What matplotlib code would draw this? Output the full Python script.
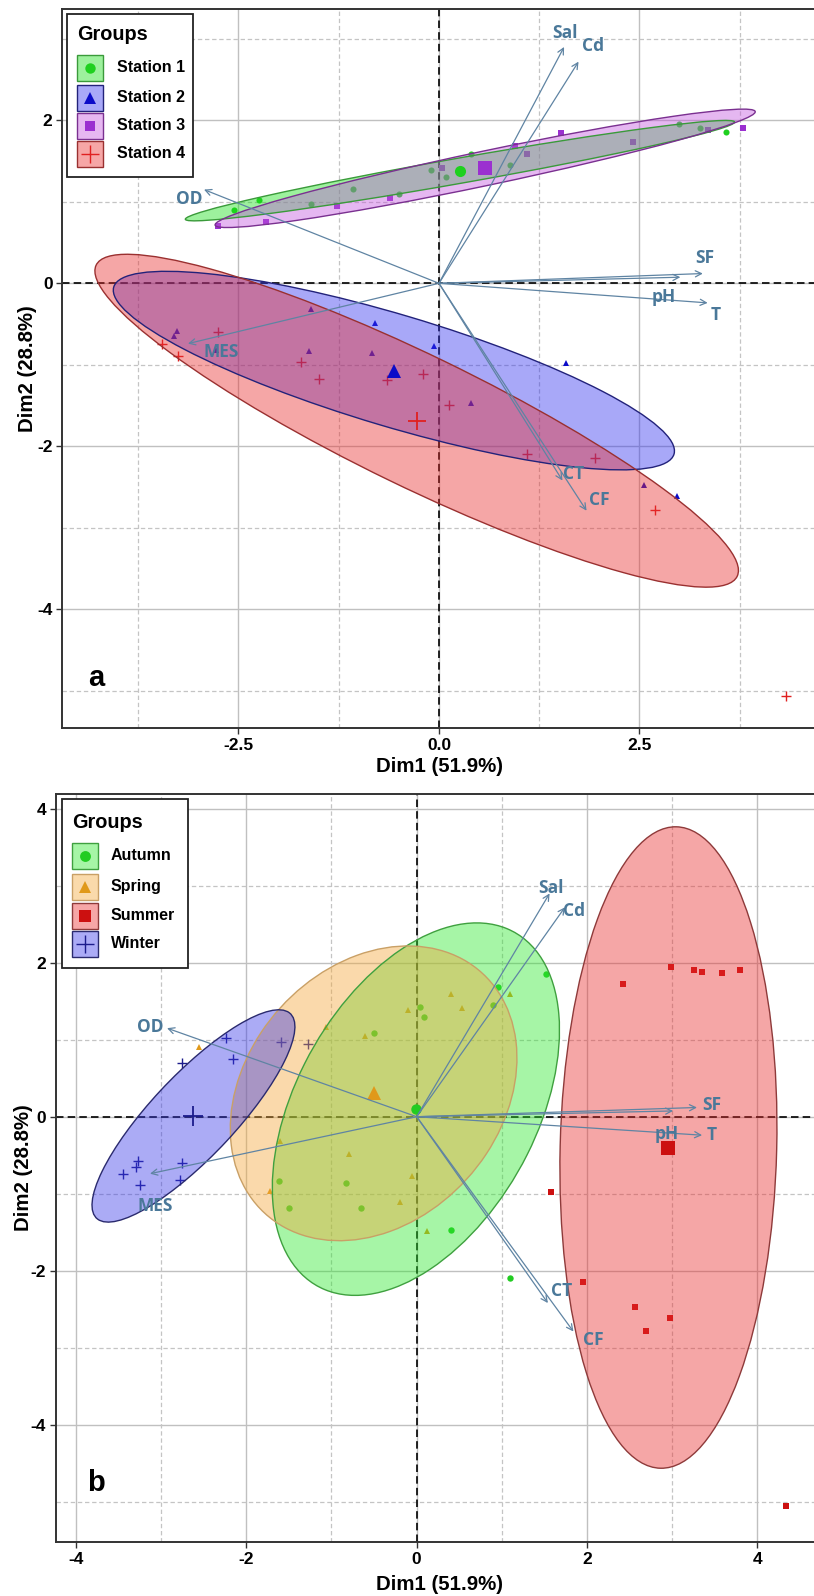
import numpy as np
import matplotlib
matplotlib.use("Agg")
import matplotlib.pyplot as plt
from matplotlib.patches import Ellipse, Rectangle
from matplotlib.colors import to_rgb

# ---------------------------------------------------------------------------
# PCA scores of the 48 samples (Dim1, Dim2) with their station and season
# ---------------------------------------------------------------------------
dim1 = [
    -2.56, -2.24, -1.59, -1.07, -0.50, -0.10, 0.09, 0.40, 0.89, 2.99, 3.25, 3.58,      # Station 1
    -3.27, -3.30, -2.78, -1.60, -1.62, -0.80, -0.83, -0.06, 0.40, 1.58, 2.56, 2.97,    # Station 2
    -2.75, -2.16, -1.27, -0.61, 0.04, 0.53, 0.95, 1.10, 1.52, 2.42, 3.35, 3.79,        # Station 3
    -3.45, -3.25, -2.76, -1.72, -1.50, -0.65, -0.20, 0.12, 1.10, 1.95, 2.69, 4.33,     # Station 4
]
dim2 = [
    0.90, 1.02, 0.97, 1.16, 1.09, 1.39, 1.30, 1.59, 1.45, 1.95, 1.91, 1.86,
    -0.58, -0.65, -0.82, -0.32, -0.83, -0.49, -0.86, -0.77, -1.47, -0.98, -2.47, -2.61,
    0.70, 0.75, 0.95, 1.05, 1.42, 1.41, 1.69, 1.59, 1.85, 1.73, 1.88, 1.91,
    -0.74, -0.89, -0.60, -0.96, -1.18, -1.19, -1.11, -1.49, -2.09, -2.14, -2.78, -5.06,
]
station = [
    "Station 1", "Station 1", "Station 1", "Station 1", "Station 1", "Station 1",
    "Station 1", "Station 1", "Station 1", "Station 1", "Station 1", "Station 1",
    "Station 2", "Station 2", "Station 2", "Station 2", "Station 2", "Station 2",
    "Station 2", "Station 2", "Station 2", "Station 2", "Station 2", "Station 2",
    "Station 3", "Station 3", "Station 3", "Station 3", "Station 3", "Station 3",
    "Station 3", "Station 3", "Station 3", "Station 3", "Station 3", "Station 3",
    "Station 4", "Station 4", "Station 4", "Station 4", "Station 4", "Station 4",
    "Station 4", "Station 4", "Station 4", "Station 4", "Station 4", "Station 4",
]
season = [
    "Spring", "Winter", "Winter", "Spring", "Autumn", "Spring",
    "Autumn", "Spring", "Autumn", "Summer", "Summer", "Summer",
    "Winter", "Winter", "Winter", "Spring", "Autumn", "Spring",
    "Autumn", "Spring", "Autumn", "Summer", "Summer", "Summer",
    "Winter", "Winter", "Winter", "Spring", "Autumn", "Spring",
    "Autumn", "Spring", "Autumn", "Summer", "Summer", "Summer",
    "Winter", "Winter", "Winter", "Spring", "Autumn", "Autumn",
    "Spring", "Spring", "Autumn", "Summer", "Summer", "Summer",
]

station_names = ["Station 1", "Station 2", "Station 3", "Station 4"]
season_names = ["Autumn", "Spring", "Summer", "Winter"]

# variable loadings (scaled to the score space)
variables = ["OD", "MES", "Sal", "Cd", "SF", "pH", "T", "CT", "CF"]
var_dim1 = [-2.93, -3.13, 1.56, 1.74, 3.29, 3.01, 3.35, 1.54, 1.84]
var_dim2 = [1.15, -0.74, 2.90, 2.72, 0.12, 0.075, -0.24, -2.42, -2.79]

x_title = "Dim1 (51.9%)"
y_title = "Dim2 (28.8%)"
legend_title = "Groups"

# ---------------------------------------------------------------------------
# styling
# ---------------------------------------------------------------------------
W, H, DPI = 814, 1596, 100
FONT = "Liberation Sans"
LABEL_FONT = "Open Sans"
ELLIPSE_R = 1.64          # ellipse radius in standard deviations
FILL_ALPHA = 0.42
ARROW_COLOR = "#5F84A3"
VAR_TEXT_COLOR = "#4A7899"

station_style = {
    "Station 1": dict(marker="o", color="#1FD01F", ms=4.4, big=8.0, fill="#16DE16", edge="#3A9A3A", mew=0),
    "Station 2": dict(marker="^", color="#0B0BC8", ms=4.8, big=10.5, fill="#3030EF", edge="#22227A", mew=0),
    "Station 3": dict(marker="s", color="#9B30D0", ms=4.2, big=9.5, fill="#C354DE", edge="#7A3090", mew=0),
    "Station 4": dict(marker="+", color="#E02020", ms=7.0, big=13.0, fill="#E92C2C", edge="#9A3030", mew=1.0),
}
season_style = {
    "Autumn": dict(marker="o", color="#22CC22", ms=4.6, big=7.5, fill="#2CE82C", edge="#3FA03F", mew=0),
    "Spring": dict(marker="^", color="#E0991A", ms=5.0, big=10.5, fill="#F4A637", edge="#C9A066", mew=0),
    "Summer": dict(marker="s", color="#CC1010", ms=4.8, big=9.5, fill="#E92C2C", edge="#8E3A3A", mew=0),
    "Winter": dict(marker="+", color="#1C1C8C", ms=7.5, big=14.0, fill="#3737E9", edge="#2A2A6E", mew=1.0),
}

# label offsets from arrow tips, screen pixels (dx right, dy down)
label_offsets_a = {"OD": (-15, 9), "MES": (33, 8), "Sal": (1, -14), "Cd": (15, -16),
                   "SF": (2, -16), "pH": (-17, 20), "T": (8, 12), "CT": (11, -7), "CF": (13, -11)}
label_offsets_b = {"OD": (-17, -1), "MES": (5, 32), "Sal": (1, -5), "Cd": (9, 4),
                   "SF": (15, -2), "pH": (-6, 23), "T": (10, 0), "CT": (14, -12), "CF": (20, 8)}


def blend(color, alpha):
    r, g, b = to_rgb(color)
    return (1 - alpha + alpha * r, 1 - alpha + alpha * g, 1 - alpha + alpha * b)


fig = plt.figure(figsize=(W / DPI, H / DPI), dpi=DPI)


def rect(left, top, right, bottom):
    return [left / W, 1 - bottom / H, (right - left) / W, (bottom - top) / H]


x = np.array(dim1)
y = np.array(dim2)


def draw_panel(ax, groups, names, styles, xlim, ylim, xmajor, xminor, ymajor, yminor,
               xticklabels, offsets):
    ax.set_xlim(*xlim)
    ax.set_ylim(*ylim)
    ax.set_facecolor("white")
    for v in xmajor:
        ax.axvline(v, color="#C0C0C0", lw=1.0, zorder=0)
    for v in ymajor:
        ax.axhline(v, color="#C0C0C0", lw=1.0, zorder=0)
    for v in xminor:
        ax.axvline(v, color="#C4C4C4", lw=0.9, ls=(0, (3.5, 2.2)), zorder=0)
    for v in yminor:
        ax.axhline(v, color="#C4C4C4", lw=0.9, ls=(0, (3.5, 2.2)), zorder=0)
    ax.axhline(0, color="black", lw=1.2, ls=(0, (4.5, 2.5)), zorder=1)
    ax.axvline(0, color="black", lw=1.2, ls=(0, (4.5, 2.5)), zorder=1)

    groups = np.array(groups)
    # individual points
    for name in names:
        st = styles[name]
        m = groups == name
        ax.plot(x[m], y[m], ls="none", marker=st["marker"], ms=st["ms"], color=st["color"],
                mew=st["mew"], zorder=2)
    # concentration ellipses from each group's mean and covariance
    for name in names:
        st = styles[name]
        m = groups == name
        gx, gy = x[m], y[m]
        vals, vecs = np.linalg.eigh(np.cov(gx, gy))
        order = vals.argsort()[::-1]
        vals, vecs = vals[order], vecs[:, order]
        angle = np.degrees(np.arctan2(vecs[1, 0], vecs[0, 0]))
        w_, h_ = 2 * ELLIPSE_R * np.sqrt(vals[0]), 2 * ELLIPSE_R * np.sqrt(vals[1])
        ax.add_patch(Ellipse((gx.mean(), gy.mean()), w_, h_, angle=angle,
                             facecolor=st["fill"], alpha=FILL_ALPHA, edgecolor="none", zorder=3))
        ax.add_patch(Ellipse((gx.mean(), gy.mean()), w_, h_, angle=angle,
                             facecolor="none", edgecolor=st["edge"], lw=1.0, zorder=3.1))
    # group means
    for name in names:
        st = styles[name]
        m = groups == name
        ax.plot([x[m].mean()], [y[m].mean()], ls="none", marker=st["marker"], ms=st["big"],
                color=st["color"], mew=st["mew"] * 1.3, zorder=4)

    # variable arrows
    for name, vx, vy in zip(variables, var_dim1, var_dim2):
        ax.annotate("", xy=(vx, vy), xytext=(0, 0),
                    arrowprops=dict(arrowstyle="->", color=ARROW_COLOR, lw=0.9,
                                    shrinkA=0, shrinkB=0, mutation_scale=11),
                    zorder=5)
        dx, dy = offsets[name]
        ax.annotate(name, xy=(vx, vy), xytext=(dx, -dy), textcoords="offset pixels",
                    ha="center", va="center", fontsize=12.5, fontweight="bold",
                    family=LABEL_FONT, color=VAR_TEXT_COLOR, zorder=6)

    ax.set_xticks(xmajor)
    ax.set_xticklabels(xticklabels)
    ax.set_yticks(ymajor)
    ax.set_yticklabels([str(v) for v in ymajor])
    ax.tick_params(direction="out", length=4.5, width=1.0, color="#333333",
                   labelsize=12.5, pad=2.5)
    for lab in ax.get_xticklabels() + ax.get_yticklabels():
        lab.set_fontweight("bold")
        lab.set_family(FONT)
    for sp in ax.spines.values():
        sp.set_color("#333333")
        sp.set_linewidth(1.4)


# panel a: stations
ax_a = fig.add_axes(rect(62.3, 9.3, 818, 728))
draw_panel(ax_a, station, station_names, station_style,
           xlim=(-4.697, 4.726), ylim=(-5.456, 3.362),
           xmajor=[-2.5, 0.0, 2.5], xminor=[-3.75, -1.25, 1.25, 3.75],
           ymajor=[-4, -2, 0, 2], yminor=[-5, -3, -1, 1, 3],
           xticklabels=["-2.5", "0.0", "2.5"], offsets=label_offsets_a)

# panel b: seasons
ax_b = fig.add_axes(rect(55.7, 794, 824, 1542))
draw_panel(ax_b, season, season_names, season_style,
           xlim=(-4.237, 4.781), ylim=(-5.523, 4.191),
           xmajor=[-4, -2, 0, 2, 4], xminor=[-3, -1, 1, 3],
           ymajor=[-4, -2, 0, 2, 4], yminor=[-5, -3, -1, 1, 3],
           xticklabels=["-4", "-2", "0", "2", "4"], offsets=label_offsets_b)

# overlay in pixel coordinates for legends, titles and panel letters
ov = fig.add_axes([0, 0, 1, 1], zorder=10)
ov.set_xlim(0, W)
ov.set_ylim(H, 0)
ov.axis("off")
ov.patch.set_alpha(0)


def draw_legend(names, styles, box, title_xy, key_x, rows, text_x):
    bx0, by0, bx1, by1 = box
    ov.add_patch(Rectangle((bx0, by0), bx1 - bx0, by1 - by0, facecolor="white",
                           edgecolor="#222222", lw=1.3))
    ov.text(title_xy[0], title_xy[1], legend_title, ha="left", va="center",
            fontsize=14.3, fontweight="bold", family=FONT)
    for name, cy in zip(names, rows):
        st = styles[name]
        ov.add_patch(Rectangle((key_x, cy - 13), 26, 26, facecolor=blend(st["fill"], FILL_ALPHA),
                               edgecolor=st["edge"], lw=1.0))
        ov.plot([key_x + 13], [cy], marker=st["marker"], ls="none", color=st["color"],
                ms=st["ms"] * 1.7 if st["marker"] != "+" else 13, mew=st["mew"])
        ov.text(text_x, cy, name, ha="left", va="center", fontsize=11.5,
                fontweight="bold", family=FONT)


draw_legend(station_names, station_style, (67, 14, 193, 177), (77, 35), 77,
            [68, 98, 126, 154], 117)
draw_legend(season_names, season_style, (62, 799, 188, 968), (72, 822), 72,
            [856, 887, 916, 944], 111)

for cx, cy in [(440, 766), (440, 1585)]:
    ov.text(cx, cy, x_title, ha="center", va="center", fontsize=14.7,
            fontweight="bold", family=FONT)
for cx, cy in [(27.5, 368.7), (23.5, 1168)]:
    ov.text(cx, cy, y_title, ha="center", va="center", rotation=90, fontsize=14.7,
            fontweight="bold", family=FONT)

ov.text(96, 678, "a", ha="center", va="center", fontsize=21, fontweight="bold", family=FONT)
ov.text(96, 1483, "b", ha="center", va="center", fontsize=21, fontweight="bold", family=FONT)

fig.savefig("out.png", dpi=DPI)
